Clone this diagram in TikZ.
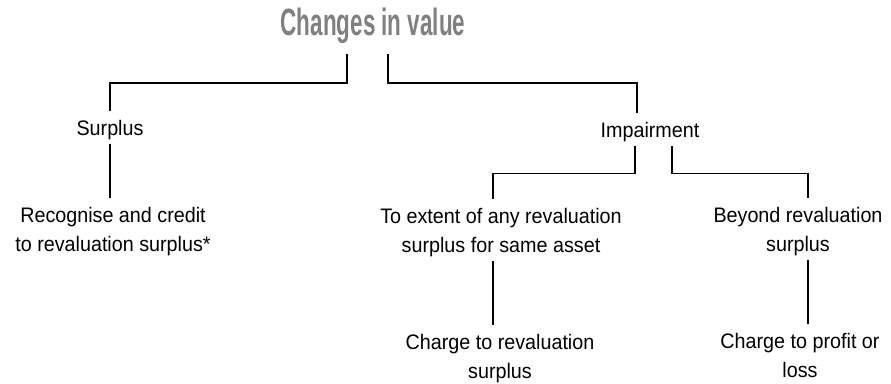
\documentclass[tikz,border=0pt]{standalone}
\usepackage{fontspec}
\setmainfont[FakeStretch=0.94]{Liberation Sans}
\newfontfamily\condfont[FakeStretch=0.59]{Liberation Sans Bold}
\usetikzlibrary{positioning}

\definecolor{titlegray}{HTML}{808080}

\tikzset{
  lbl/.style={anchor=north,align=center,inner xsep=0pt,inner ysep=9pt,
    text height=15pt,text depth=0pt,font=\fontsize{21}{29}\selectfont},
  lbltwo/.style={lbl,text height=44pt},
  conn/.style={line width=1.6pt}
}

\begin{document}
\begin{tikzpicture}[x=1pt,y=-1pt]
      \useasboundingbox (0,0) rectangle (891,383);

      \node[anchor=south,inner sep=0pt,text depth=0pt,inner ysep=18pt,text=titlegray,
        font=\condfont\fontsize{38}{40}\selectfont] (title) at (373,54) {Changes in value};

      \node[lbl] (surplus) at (110,111) {Surplus};
      \node[lbl] (impair) at (650,113) {Impairment};
      \node[lbltwo] (recog) at (113,198) {Recognise and credit\\to revaluation surplus*};
      \node[lbltwo] (extent) at (501,199) {To extent of any revaluation\\surplus for same asset};
      \node[lbltwo] (beyond) at (798,198) {Beyond revaluation\\surplus};
      \node[lbltwo] (chrev) at (500,325) {Charge to revaluation\\surplus};
      \node[lbltwo] (chpl) at (800,324) {Charge to profit or\\loss};

      \draw[conn] ([xshift=-26pt]title.south) -- ++(0,29) -| (surplus.north);
      \draw[conn] ([xshift=15pt]title.south) -- ++(0,29) -| ([xshift=-13pt]impair.north);
      \draw[conn] (surplus.south) -- (surplus.south |- recog.north);
      \draw[conn] ([xshift=-15pt]impair.south) -- ++(0,27) -| ([xshift=-8pt]extent.north);
      \draw[conn] ([xshift=22pt]impair.south) -- ++(0,27) -| ([xshift=10pt]beyond.north);
      \draw[conn] ([xshift=-8pt]extent.south) -- ([xshift=-7pt]chrev.north);
      \draw[conn] ([xshift=10pt]beyond.south) -- ([xshift=8pt]chpl.north);
    \end{tikzpicture}
\end{document}
